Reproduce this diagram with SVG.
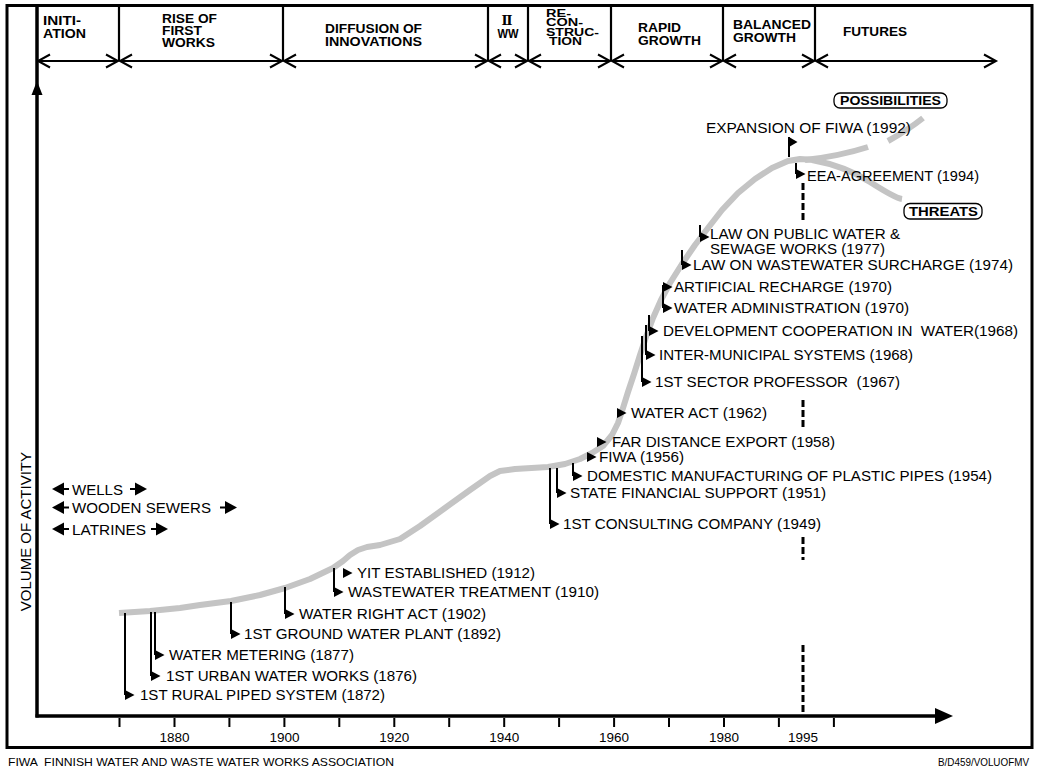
<svg xmlns="http://www.w3.org/2000/svg" width="1038" height="773" viewBox="0 0 1038 773">
<defs>
<style>
text{font-family:"Liberation Sans",Arial,Helvetica,sans-serif;fill:#000}
.hd{font-weight:bold;font-size:12px}
.hs{font-weight:bold;font-size:10px}
.ev{font-size:14px}
.lab{font-size:13.5px}
.ft{font-size:11.5px}
.ln{stroke:#000;stroke-width:2;fill:none}
.sep{stroke:#000;stroke-width:2.2;fill:none}
.curve{stroke:#c4c4c4;stroke-width:6;fill:none;stroke-linejoin:round}
.dash{stroke:#000;stroke-width:3;stroke-dasharray:7 3;fill:none}
.box{fill:#fff;stroke:#000;stroke-width:1.3}
</style>
<path id="tri" d="M0,-5 L9.5,0 L0,5 Z" fill="#000"/>
<path id="chevL" d="M12,-6.5 L0,0 L12,6.5" fill="none" stroke="#000" stroke-width="2"/>
<path id="chevR" d="M-12,-6.5 L0,0 L-12,6.5" fill="none" stroke="#000" stroke-width="2"/>
<g id="arrL"><path d="M0,0 L12,-6.5 L12,6.5 Z" fill="#000"/><path d="M11,0 H17" stroke="#000" stroke-width="2"/></g>
<g id="arrR"><path d="M0,0 L-12,-6.5 L-12,6.5 Z" fill="#000"/><path d="M-11,0 H-17" stroke="#000" stroke-width="2"/></g>
</defs>
<rect x="0" y="0" width="1038" height="773" fill="#fff"/>
<rect id="frame" x="7" y="5.5" width="1025" height="742" fill="#fff" stroke="#000" stroke-width="3"/>

<g id="header">
<g class="sep">
<path d="M119,5V61M283,5V61M488,5V61M528,5V61M611,5V61M723,5V61M815,5V61"/>
<path d="M38,61H118M120,61H282M284,61H487M489,61H527M529,61H610M612,61H722M724,61H814M816,61H996" stroke-width="2"/>
</g>
<use href="#chevL" x="38" y="61"/><use href="#chevR" x="118" y="61"/>
<use href="#chevL" x="120" y="61"/><use href="#chevR" x="282" y="61"/>
<use href="#chevL" x="284" y="61"/><use href="#chevR" x="487" y="61"/>
<use href="#chevL" x="489" y="61"/><use href="#chevR" x="527" y="61"/>
<use href="#chevL" x="529" y="61"/><use href="#chevR" x="610" y="61"/>
<use href="#chevL" x="612" y="61"/><use href="#chevR" x="722" y="61"/>
<use href="#chevL" x="724" y="61"/><use href="#chevR" x="814" y="61"/>
<use href="#chevL" x="816" y="61"/><use href="#chevR" x="996" y="61"/>
<g id="ph-initiation"><text class="hd" x="43" y="25" textLength="38" lengthAdjust="spacingAndGlyphs">INITI-</text><text class="hd" x="43" y="38" textLength="43" lengthAdjust="spacingAndGlyphs">ATION</text></g>
<g id="ph-rise"><text class="hd" x="162" y="22.5" textLength="55" lengthAdjust="spacingAndGlyphs">RISE OF</text><text class="hd" x="162" y="34.5" textLength="40" lengthAdjust="spacingAndGlyphs">FIRST</text><text class="hd" x="162" y="46.5" textLength="53" lengthAdjust="spacingAndGlyphs">WORKS</text></g>
<g id="ph-diffusion"><text class="hd" x="325" y="33" textLength="97" lengthAdjust="spacingAndGlyphs">DIFFUSION OF</text><text class="hd" x="325" y="46" textLength="97" lengthAdjust="spacingAndGlyphs">INNOVATIONS</text></g>
<g id="ph-ww"><text x="507" y="25" text-anchor="middle" style="font-family:'DejaVu Serif','Liberation Serif',serif;font-weight:bold;font-size:13px">Ⅱ</text><text class="hd" x="508" y="38" text-anchor="middle" textLength="21" lengthAdjust="spacingAndGlyphs">WW</text></g>
<g id="ph-recon"><text class="hs" x="546" y="16.5" textLength="25" lengthAdjust="spacingAndGlyphs">RE-</text><text class="hs" x="546" y="26" textLength="37" lengthAdjust="spacingAndGlyphs">CON-</text><text class="hs" x="546" y="35.5" textLength="53" lengthAdjust="spacingAndGlyphs">STRUC-</text><text class="hs" x="549" y="45" textLength="33" lengthAdjust="spacingAndGlyphs">TION</text></g>
<g id="ph-rapid"><text class="hd" x="638" y="32" textLength="43" lengthAdjust="spacingAndGlyphs">RAPID</text><text class="hd" x="638" y="45" textLength="63" lengthAdjust="spacingAndGlyphs">GROWTH</text></g>
<g id="ph-balanced"><text class="hd" x="733" y="29" textLength="78" lengthAdjust="spacingAndGlyphs">BALANCED</text><text class="hd" x="733" y="42" textLength="63" lengthAdjust="spacingAndGlyphs">GROWTH</text></g>
<g id="ph-futures"><text class="hd" x="843" y="36" textLength="64" lengthAdjust="spacingAndGlyphs">FUTURES</text></g>
</g>

<g id="axes">
<path d="M37,5V717.5" stroke="#000" stroke-width="3.5"/>
<path d="M37,81 L31.5,95 L42.5,95 Z" fill="#000"/>
<path d="M35.5,716H937" stroke="#000" stroke-width="3.5"/>
<path d="M953,716 L935,708 L935,724 Z" fill="#000"/>
<path class="ln" d="M119.5,718V727M174.5,718V727M229.4,718V727M284.4,718V727M339.3,718V727M394.3,718V727M449.2,718V727M504.2,718V727M559.1,718V727M614.1,718V727M669,718V727M724,718V727M778.9,718V727M833.9,718V727"/>
<g class="lab" text-anchor="middle">
<text x="174.5" y="742">1880</text><text x="284.4" y="742">1900</text><text x="394.3" y="742">1920</text><text x="504.2" y="742">1940</text><text x="614.1" y="742">1960</text><text x="724" y="742">1980</text><text x="803" y="742">1995</text>
</g>
<text transform="translate(31,452) rotate(-90)" text-anchor="end" style="font-size:15px">VOLUME OF ACTIVITY</text>
</g>

<g id="line1995">
<path class="dash" d="M803,183V222M803,400V428M803,537V560M803,645V714"/>
</g>

<g id="connectors">
<path id="curve" class="curve" d="M119,613 L150,611 L180,608 L200,605 L231,601 L260,595 L285,588 L310,579 L333,568 L343,561 L350,555 L358,550 L367,547 L380,545 L400,539 L420,526 L445,508 L470,490 L490,476 L500,471 L515,469 L548,467 L565,464 L580,459 L592,453 L603,446 L612,435 L618,423 L623,408 L628,392 L634,374 L640,355 L646,337 L653,318 L661,300 L670,283 L682,264 L695,245 L708,228 L722,210 L738,193 L755,179 L772,168 L788,161 L800,159 L815,160"/>
<path id="threats-branch" class="curve" d="M812,160 Q845,166 870,182 T902,199"/>
<path id="poss-branch" class="curve" d="M805,160 Q840,156 868,147"/>
<path id="poss-dash" class="curve" d="M888,141 Q908,130 923,118"/>
</g>

<g id="outcomes">
<g id="possibilities"><rect class="box" x="834" y="93" width="113" height="15" rx="6"/><text class="hd" x="840" y="105" textLength="101" lengthAdjust="spacingAndGlyphs">POSSIBILITIES</text></g>
<g id="threats"><rect class="box" x="904" y="203.5" width="78" height="15.5" rx="6"/><text class="hd" x="909" y="216" textLength="69" lengthAdjust="spacingAndGlyphs">THREATS</text></g>
</g>

<g id="traditional">
<g id="wells"><use href="#arrL" x="52" y="489"/><text class="ev" x="72" y="494.5" textLength="51" lengthAdjust="spacingAndGlyphs">WELLS</text><use href="#arrR" x="147" y="489"/></g>
<g id="wooden-sewers"><use href="#arrL" x="52" y="507.5"/><text class="ev" x="72" y="513" textLength="139" lengthAdjust="spacingAndGlyphs">WOODEN SEWERS</text><use href="#arrR" x="237" y="507.5"/></g>
<g id="latrines"><use href="#arrL" x="52" y="529"/><text class="ev" x="72" y="534.5" textLength="74" lengthAdjust="spacingAndGlyphs">LATRINES</text><use href="#arrR" x="168" y="529"/></g>
</g>

<g id="events">
<g id="e1872"><path class="ln" d="M125,613V695"/><use href="#tri" x="125" y="695"/><text class="ev" x="140" y="700" textLength="245" lengthAdjust="spacingAndGlyphs">1ST RURAL PIPED SYSTEM (1872)</text></g>
<g id="e1876"><path class="ln" d="M151,612V676"/><use href="#tri" x="151" y="676"/><text class="ev" x="166" y="681" textLength="251" lengthAdjust="spacingAndGlyphs">1ST URBAN WATER WORKS (1876)</text></g>
<g id="e1877"><path class="ln" d="M155,612V655"/><use href="#tri" x="155" y="655"/><text class="ev" x="169" y="660" textLength="185" lengthAdjust="spacingAndGlyphs">WATER METERING (1877)</text></g>
<g id="e1892"><path class="ln" d="M231,602V634"/><use href="#tri" x="231" y="634"/><text class="ev" x="244" y="639" textLength="257" lengthAdjust="spacingAndGlyphs">1ST GROUND WATER PLANT (1892)</text></g>
<g id="e1902"><path class="ln" d="M285,587V614"/><use href="#tri" x="285" y="614"/><text class="ev" x="299" y="619" textLength="187" lengthAdjust="spacingAndGlyphs">WATER RIGHT ACT (1902)</text></g>
<g id="e1910"><path class="ln" d="M334,568V592"/><use href="#tri" x="334" y="592"/><text class="ev" x="348" y="597" textLength="251" lengthAdjust="spacingAndGlyphs">WASTEWATER TREATMENT (1910)</text></g>
<g id="e1912"><use href="#tri" x="343" y="573"/><text class="ev" x="357" y="578" textLength="178" lengthAdjust="spacingAndGlyphs">YIT ESTABLISHED (1912)</text></g>
<g id="e1949"><path class="ln" d="M550,468V524"/><use href="#tri" x="550" y="524"/><text class="ev" x="563" y="529" textLength="258" lengthAdjust="spacingAndGlyphs">1ST CONSULTING COMPANY (1949)</text></g>
<g id="e1951"><path class="ln" d="M557,468V493"/><use href="#tri" x="557" y="493"/><text class="ev" x="570" y="498" textLength="256" lengthAdjust="spacingAndGlyphs">STATE FINANCIAL SUPPORT (1951)</text></g>
<g id="e1954"><path class="ln" d="M573,463V476"/><use href="#tri" x="573" y="476"/><text class="ev" x="587" y="481" textLength="405" lengthAdjust="spacingAndGlyphs">DOMESTIC MANUFACTURING OF PLASTIC PIPES (1954)</text></g>
<g id="e1956"><use href="#tri" x="587" y="457"/><text class="ev" x="599" y="462" textLength="85" lengthAdjust="spacingAndGlyphs">FIWA (1956)</text></g>
<g id="e1958"><use href="#tri" x="597" y="442"/><text class="ev" x="612" y="447" textLength="223" lengthAdjust="spacingAndGlyphs">FAR DISTANCE EXPORT (1958)</text></g>
<g id="e1962"><use href="#tri" x="617" y="413"/><text class="ev" x="631" y="418" textLength="136" lengthAdjust="spacingAndGlyphs">WATER ACT (1962)</text></g>
<g id="e1967"><path class="ln" d="M642,336V382"/><use href="#tri" x="642" y="382"/><text class="ev" x="655" y="387" textLength="245" lengthAdjust="spacingAndGlyphs" xml:space="preserve" style="white-space:pre">1ST SECTOR PROFESSOR  (1967)</text></g>
<g id="e1968a"><path class="ln" d="M646,325V355"/><use href="#tri" x="646" y="355"/><text class="ev" x="659" y="360" textLength="254" lengthAdjust="spacingAndGlyphs">INTER-MUNICIPAL SYSTEMS (1968)</text></g>
<g id="e1968b"><path class="ln" d="M649,315V331"/><use href="#tri" x="649" y="331"/><text class="ev" x="663" y="336" textLength="355" lengthAdjust="spacingAndGlyphs" xml:space="preserve" style="white-space:pre">DEVELOPMENT COOPERATION IN  WATER(1968)</text></g>
<g id="e1970a"><path class="ln" d="M663,285V308"/><use href="#tri" x="663" y="308"/><text class="ev" x="674" y="313" textLength="235" lengthAdjust="spacingAndGlyphs">WATER ADMINISTRATION (1970)</text></g>
<g id="e1970b"><use href="#tri" x="663" y="287"/><text class="ev" x="674" y="292" textLength="218" lengthAdjust="spacingAndGlyphs">ARTIFICIAL RECHARGE (1970)</text></g>
<g id="e1974"><path class="ln" d="M682,250V265"/><use href="#tri" x="682" y="265"/><text class="ev" x="693" y="270" textLength="320" lengthAdjust="spacingAndGlyphs">LAW ON WASTEWATER SURCHARGE (1974)</text></g>
<g id="e1977"><path class="ln" d="M700,225V237"/><use href="#tri" x="700" y="237"/><text class="ev" x="710" y="239" textLength="190" lengthAdjust="spacingAndGlyphs">LAW ON PUBLIC WATER &amp;</text><text class="ev" x="710" y="254" textLength="175" lengthAdjust="spacingAndGlyphs">SEWAGE WORKS (1977)</text></g>
<g id="e1992"><path class="ln" d="M789,137V157"/><path d="M789,137 L797.5,142 L789,147 Z" fill="#000"/><text class="ev" x="706" y="133" textLength="205" lengthAdjust="spacingAndGlyphs">EXPANSION OF FIWA (1992)</text></g>
<g id="e1994"><path class="ln" d="M796,163V174"/><use href="#tri" x="796" y="174"/><text class="ev" x="807" y="181" textLength="172" lengthAdjust="spacingAndGlyphs">EEA-AGREEMENT (1994)</text></g>
</g>

<g id="footer">
<text class="ft" x="8" y="766" textLength="386" lengthAdjust="spacingAndGlyphs" xml:space="preserve" style="white-space:pre">FIWA  FINNISH WATER AND WASTE WATER WORKS ASSOCIATION</text>
<text x="938" y="766" style="font-size:10.5px" textLength="91" lengthAdjust="spacingAndGlyphs">B/D459/VOLUOFMV</text>
</g>
</svg>
